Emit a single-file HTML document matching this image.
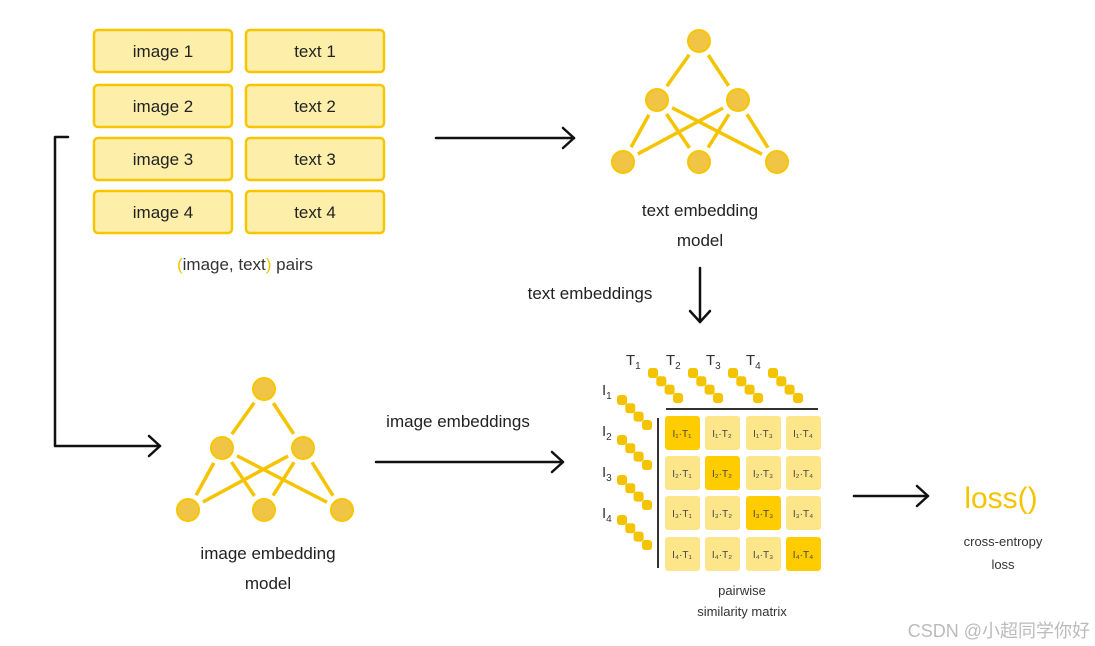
<!DOCTYPE html>
<html><head><meta charset="utf-8"><style>
body{margin:0;background:#fff;}
svg{display:block;font-family:"Liberation Sans","Noto Sans CJK SC",sans-serif;}
</style></head><body>
<svg width="1095" height="646" viewBox="0 0 1095 646" xmlns="http://www.w3.org/2000/svg">
<defs>
<g id="net">
<g stroke="#f5c400" stroke-width="3.5">
<line x1="699" y1="41" x2="657" y2="100"/><line x1="699" y1="41" x2="738" y2="100"/>
<line x1="657" y1="100" x2="623" y2="162"/><line x1="657" y1="100" x2="699" y2="162"/><line x1="657" y1="100" x2="777" y2="162"/>
<line x1="738" y1="100" x2="623" y2="162"/><line x1="738" y1="100" x2="699" y2="162"/><line x1="738" y1="100" x2="777" y2="162"/>
</g>
<g fill="#fff"><circle cx="699" cy="41" r="17"/><circle cx="657" cy="100" r="17"/><circle cx="738" cy="100" r="17"/><circle cx="623" cy="162" r="17"/><circle cx="699" cy="162" r="17"/><circle cx="777" cy="162" r="17"/></g>
<g fill="#f0c444" stroke="#f7c600" stroke-width="2"><circle cx="699" cy="41" r="11"/><circle cx="657" cy="100" r="11"/><circle cx="738" cy="100" r="11"/><circle cx="623" cy="162" r="11"/><circle cx="699" cy="162" r="11"/><circle cx="777" cy="162" r="11"/></g>
</g>
<g id="dots" fill="#f5c400"><rect x="-5" y="-5" width="10" height="10" rx="3"/><rect x="3.3" y="3.3" width="10" height="10" rx="3"/><rect x="11.6" y="11.6" width="10" height="10" rx="3"/><rect x="20" y="20" width="10" height="10" rx="3"/></g>
</defs>
<g fill="#fdeeaa" stroke="#f7c600" stroke-width="2.5">
<rect x="94" y="30" width="138" height="42" rx="4"/><rect x="246" y="30" width="138" height="42" rx="4"/>
<rect x="94" y="85" width="138" height="42" rx="4"/><rect x="246" y="85" width="138" height="42" rx="4"/>
<rect x="94" y="138" width="138" height="42" rx="4"/><rect x="246" y="138" width="138" height="42" rx="4"/>
<rect x="94" y="191" width="138" height="42" rx="4"/><rect x="246" y="191" width="138" height="42" rx="4"/>
</g>
<g font-size="17" fill="#222" text-anchor="middle">
<text x="163" y="57">image 1</text><text x="315" y="57">text 1</text>
<text x="163" y="112">image 2</text><text x="315" y="112">text 2</text>
<text x="163" y="165">image 3</text><text x="315" y="165">text 3</text>
<text x="163" y="218">image 4</text><text x="315" y="218">text 4</text>
</g>
<text x="245" y="270" font-size="17" fill="#333" text-anchor="middle"><tspan fill="#f5c400">(</tspan>image, text<tspan fill="#f5c400">)</tspan> pairs</text>
<use href="#net"/>
<use href="#net" transform="translate(-435,348)"/>
<g font-size="17" fill="#222" text-anchor="middle">
<text x="700" y="216">text embedding</text><text x="700" y="246">model</text>
<text x="268" y="559">image embedding</text><text x="268" y="589">model</text>
<text x="590" y="299">text embeddings</text>
<text x="458" y="427">image embeddings</text>
</g>
<g stroke="#111" stroke-width="2.5" fill="none" stroke-linecap="round" stroke-linejoin="round">
<line x1="436" y1="138" x2="574" y2="138"/><polyline points="563,128 574,138 563,148"/>
<polyline points="68,137 55,137 55,446 160,446"/><polyline points="149,436 160,446 149,456"/>
<line x1="700" y1="268" x2="700" y2="322"/><polyline points="690,311 700,322 710,311"/>
<line x1="376" y1="462" x2="563" y2="462"/><polyline points="552,452 563,462 552,472"/>
<line x1="854" y1="496" x2="928" y2="496"/><polyline points="917,486 928,496 917,506"/>
</g>
<g stroke="#333" stroke-width="2"><line x1="666" y1="409" x2="818" y2="409"/><line x1="658" y1="418" x2="658" y2="568"/></g>
<use href="#dots" x="653" y="373"/><use href="#dots" x="693" y="373"/><use href="#dots" x="733" y="373"/><use href="#dots" x="773" y="373"/>
<use href="#dots" x="622" y="400"/><use href="#dots" x="622" y="440"/><use href="#dots" x="622" y="480"/><use href="#dots" x="622" y="520"/>
<g font-size="15" fill="#333">
<text x="626" y="365">T<tspan font-size="10" dy="4">1</tspan></text><text x="666" y="365">T<tspan font-size="10" dy="4">2</tspan></text><text x="706" y="365">T<tspan font-size="10" dy="4">3</tspan></text><text x="746" y="365">T<tspan font-size="10" dy="4">4</tspan></text>
<text x="602" y="395">I<tspan font-size="10" dy="4">1</tspan></text><text x="602" y="436">I<tspan font-size="10" dy="4">2</tspan></text><text x="602" y="477">I<tspan font-size="10" dy="4">3</tspan></text><text x="602" y="518">I<tspan font-size="10" dy="4">4</tspan></text>
</g>
<g>
<rect x="665" y="416" width="35" height="34" rx="3" fill="#ffcc00"/><rect x="705" y="416" width="35" height="34" rx="3" fill="#fde68a"/><rect x="746" y="416" width="35" height="34" rx="3" fill="#fde68a"/><rect x="786" y="416" width="35" height="34" rx="3" fill="#fde68a"/>
<rect x="665" y="456" width="35" height="34" rx="3" fill="#fde68a"/><rect x="705" y="456" width="35" height="34" rx="3" fill="#ffcc00"/><rect x="746" y="456" width="35" height="34" rx="3" fill="#fde68a"/><rect x="786" y="456" width="35" height="34" rx="3" fill="#fde68a"/>
<rect x="665" y="496" width="35" height="34" rx="3" fill="#fde68a"/><rect x="705" y="496" width="35" height="34" rx="3" fill="#fde68a"/><rect x="746" y="496" width="35" height="34" rx="3" fill="#ffcc00"/><rect x="786" y="496" width="35" height="34" rx="3" fill="#fde68a"/>
<rect x="665" y="537" width="35" height="34" rx="3" fill="#fde68a"/><rect x="705" y="537" width="35" height="34" rx="3" fill="#fde68a"/><rect x="746" y="537" width="35" height="34" rx="3" fill="#fde68a"/><rect x="786" y="537" width="35" height="34" rx="3" fill="#ffcc00"/>
</g>
<g font-size="10" fill="#444" text-anchor="middle">
<text x="682" y="437">I₁·T₁</text><text x="722" y="437">I₁·T₂</text><text x="763" y="437">I₁·T₃</text><text x="803" y="437">I₁·T₄</text>
<text x="682" y="477">I₂·T₁</text><text x="722" y="477">I₂·T₂</text><text x="763" y="477">I₂·T₃</text><text x="803" y="477">I₂·T₄</text>
<text x="682" y="517">I₃·T₁</text><text x="722" y="517">I₃·T₂</text><text x="763" y="517">I₃·T₃</text><text x="803" y="517">I₃·T₄</text>
<text x="682" y="558">I₄·T₁</text><text x="722" y="558">I₄·T₂</text><text x="763" y="558">I₄·T₃</text><text x="803" y="558">I₄·T₄</text>
</g>
<g font-size="13" fill="#333" text-anchor="middle">
<text x="742" y="595">pairwise</text><text x="742" y="616">similarity matrix</text>
<text x="1003" y="546">cross-entropy</text><text x="1003" y="569">loss</text>
</g>
<text x="1001" y="508" font-size="30" fill="#f5c400" text-anchor="middle">loss()</text>
<text x="1090" y="637" font-size="18" fill="#bbb" text-anchor="end">CSDN @小超同学你好</text>
</svg>
</body></html>
